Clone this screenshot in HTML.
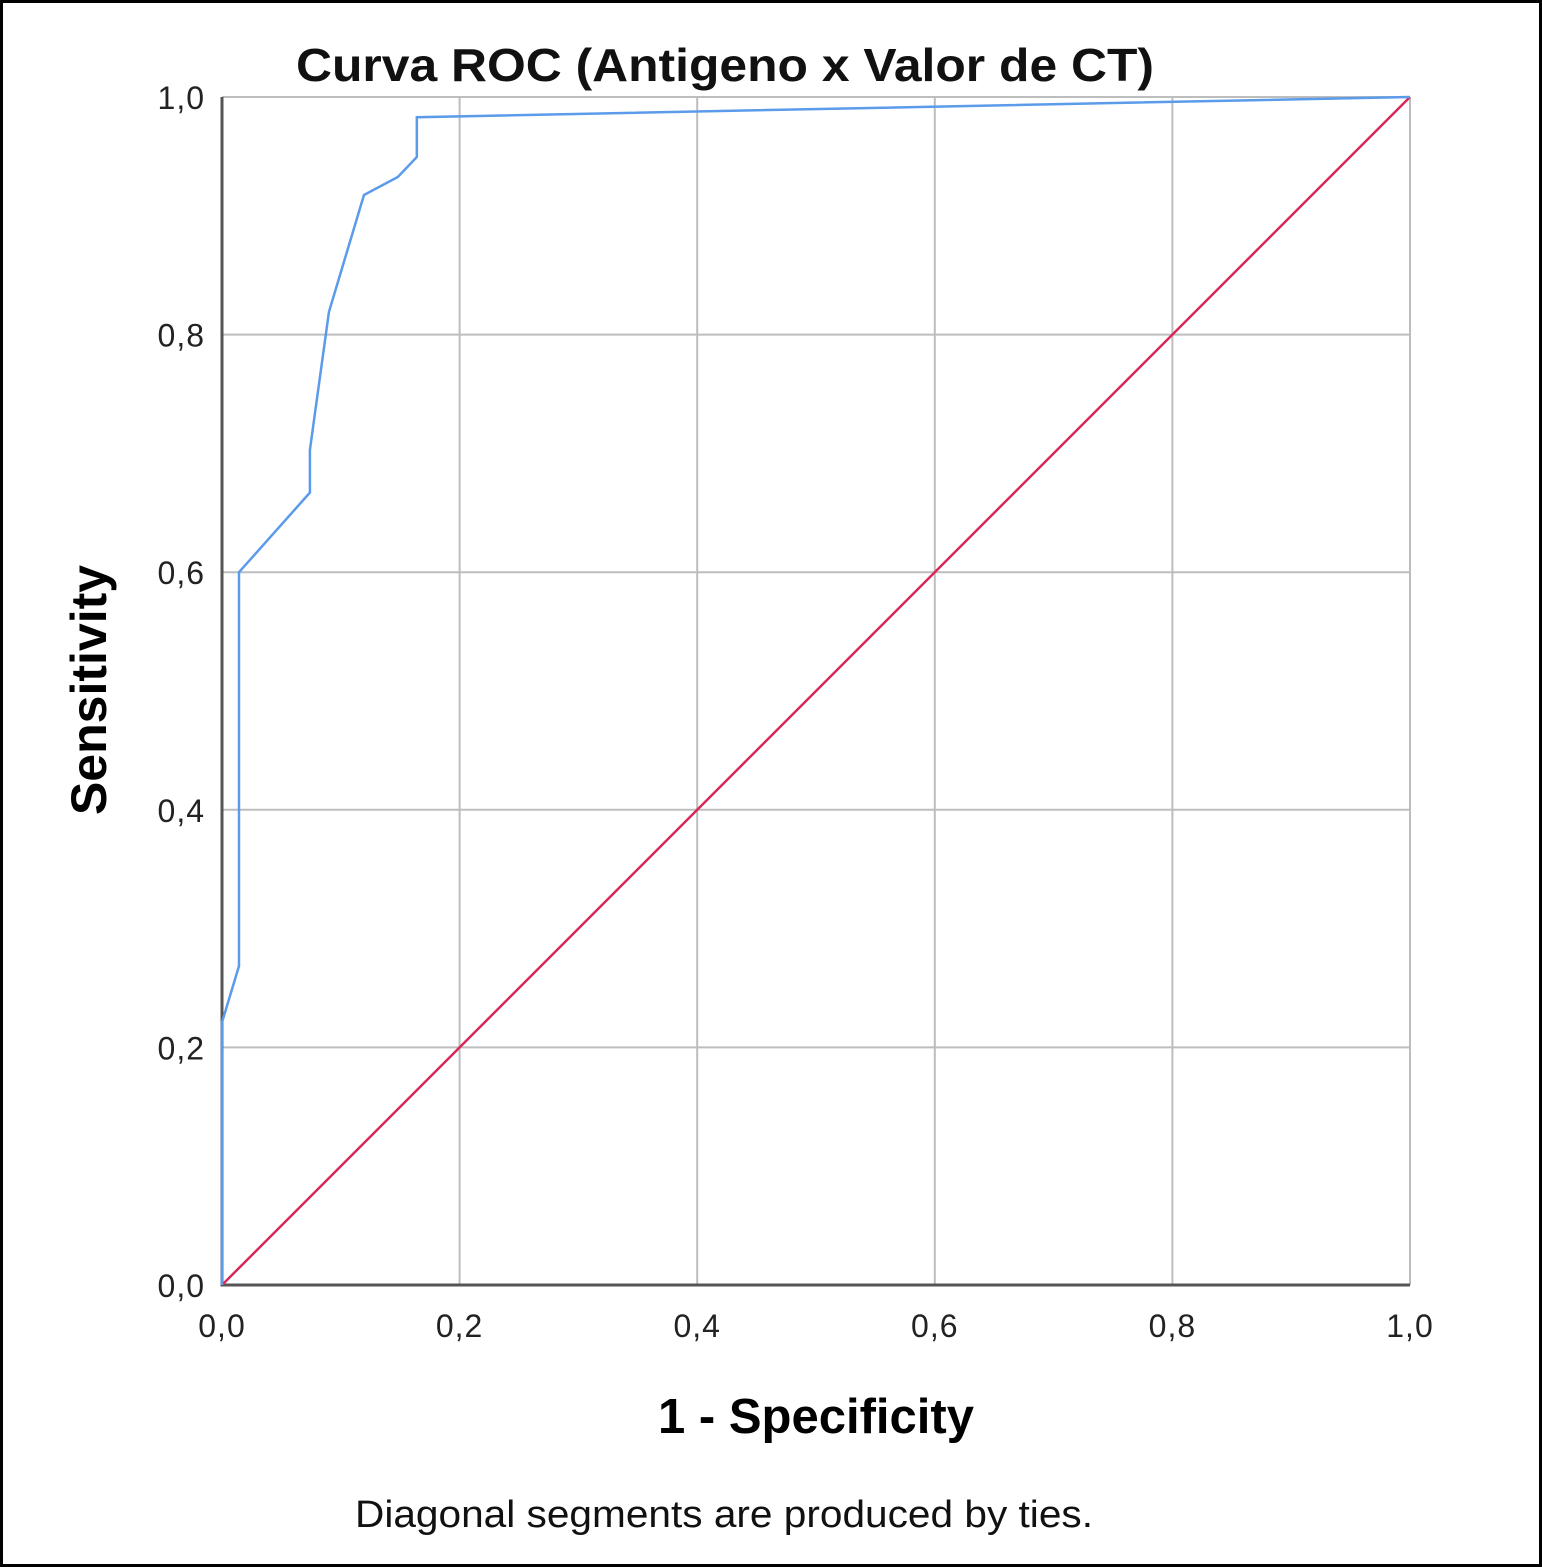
<!DOCTYPE html>
<html><head><meta charset="utf-8"><style>
html,body{margin:0;padding:0;background:#fff}
svg{display:block}
text{font-family:"Liberation Sans",sans-serif}
</style></head><body>
<svg id="chart" width="1542" height="1567">
<rect x="1.5" y="1.5" width="1539" height="1564" fill="#fff" stroke="#000" stroke-width="3"/>
<text x="725" y="81" font-size="46" font-weight="bold" text-anchor="middle" fill="#111" textLength="858" lengthAdjust="spacingAndGlyphs">Curva ROC (Antigeno x Valor de CT)</text>
<g id="grid"></g>
<g id="ticks"></g>
<g id="series"></g>
<text x="816" y="1433" font-size="49" font-weight="bold" text-anchor="middle">1 - Specificity</text>
<text transform="translate(106,690) rotate(-90)" font-size="50" font-weight="bold" text-anchor="middle">Sensitivity</text>
<text x="724" y="1527" font-size="38" text-anchor="middle" fill="#111" textLength="738" lengthAdjust="spacingAndGlyphs">Diagonal segments are produced by ties.</text>
</svg>
<script>
const tickValues=[0,0.2,0.4,0.6,0.8,1.0];
const tickLabels=["0,0","0,2","0,4","0,6","0,8","1,0"];
const rocX=[0,0,0.0143,0.0143,0.074,0.074,0.090,0.1195,0.148,0.164,0.164,1];
const rocY=[0,0.221,0.2685,0.6,0.667,0.703,0.819,0.9175,0.9327,0.9495,0.983,1];
const refX=[0,1];
const refY=[0,1];
const NS="http://www.w3.org/2000/svg";
const X0=222,X1=1410,Y0=1285,Y1=97;
function sx(v){return X0+v*(X1-X0);}
function sy(v){return Y0-v*(Y0-Y1);}
function mk(tag,attrs,parent){const e=document.createElementNS(NS,tag);for(const k in attrs)e.setAttribute(k,attrs[k]);parent.appendChild(e);return e;}
const grid=document.getElementById('grid'),ticks=document.getElementById('ticks'),series=document.getElementById('series');
tickValues.forEach((v,i)=>{
  if(v>0){
    const h=mk('line',{x1:X0,x2:X1,y1:sy(v),y2:sy(v),stroke:'#bdbdbd','stroke-width':2},grid);
    
    
    const vl=mk('line',{x1:sx(v),x2:sx(v),y1:Y0,y2:Y1,stroke:'#bdbdbd','stroke-width':2},grid);
    
    
  }
  const yt=mk('text',{x:205,y:sy(v)+12,'font-size':32,'text-anchor':'end',fill:'#222','letter-spacing':1},ticks);
  yt.textContent=tickLabels[i];
  
  
  const xt=mk('text',{x:sx(v),y:1337,'font-size':32,'text-anchor':'middle',fill:'#222','letter-spacing':1},ticks);
  xt.textContent=tickLabels[i];
  
  
});
const ax=mk('path',{d:`M${X0} ${Y1}V${Y0}H${X1}`,fill:'none',stroke:'#555','stroke-width':3},grid);


const ref=mk('polyline',{points:refX.map((x,i)=>sx(x)+','+sy(refY[i])).join(' '),fill:'none',stroke:'#d6295a','stroke-width':2.5},series);


const roc=mk('polyline',{points:rocX.map((x,i)=>sx(x)+','+sy(rocY[i])).join(' '),fill:'none',stroke:'#5b9bea','stroke-width':2.5},series);


</script>
</body></html>
